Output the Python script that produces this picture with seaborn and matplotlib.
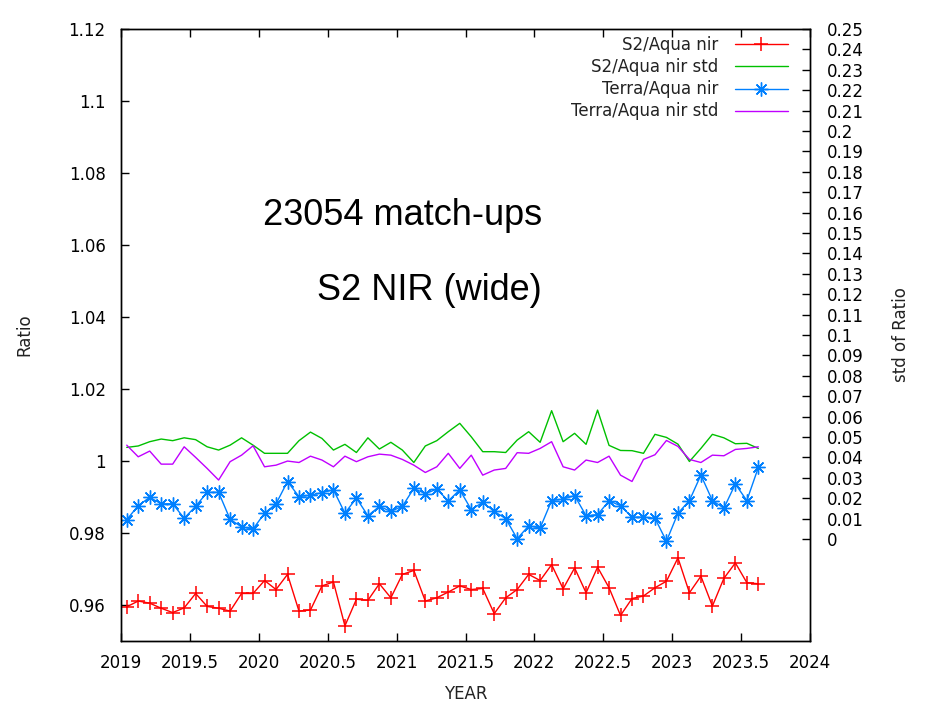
import numpy as np
import pandas as pd
import matplotlib
matplotlib.use("Agg")
import matplotlib.pyplot as plt
import seaborn as sns

# ---------------- data ----------------
months = pd.period_range("2019-01", "2023-08", freq="M")
year = np.asarray(months.year + (months.month - 0.5) / 12.0, dtype=float)

s2_nir = [0.9595, 0.9611, 0.9605, 0.9591, 0.9579, 0.9592, 0.9632, 0.9596, 0.9591, 0.9583,
          0.9632, 0.9632, 0.9668, 0.9643, 0.9685, 0.9583, 0.9586, 0.9653, 0.9664, 0.9542,
          0.9616, 0.9613, 0.9659, 0.9620, 0.9685, 0.9696, 0.9611, 0.9620, 0.9636, 0.9653,
          0.9643, 0.9646, 0.9576, 0.9620, 0.9643, 0.9685, 0.9668, 0.9712, 0.9645, 0.9703,
          0.9634, 0.9705, 0.9648, 0.9571, 0.9618, 0.9625, 0.9648, 0.9666, 0.9731, 0.9634,
          0.9680, 0.9597, 0.9674, 0.9717, 0.9662, 0.9659]

s2_nir_std = [0.0449, 0.0456, 0.0477, 0.0490, 0.0482, 0.0496, 0.0487, 0.0452, 0.0436, 0.0460,
              0.0496, 0.0460, 0.0420, 0.0420, 0.0420, 0.0482, 0.0524, 0.0493, 0.0436, 0.0464,
              0.0424, 0.0496, 0.0441, 0.0474, 0.0436, 0.0375, 0.0456, 0.0482, 0.0526, 0.0567,
              0.0501, 0.0428, 0.0428, 0.0424, 0.0485, 0.0526, 0.0474, 0.0629, 0.0477, 0.0518,
              0.0464, 0.0632, 0.0459, 0.0434, 0.0433, 0.0420, 0.0513, 0.0498, 0.0465, 0.0380,
              0.0444, 0.0513, 0.0496, 0.0467, 0.0469, 0.0444]

terra_nir = [0.9837, 0.9876, 0.9899, 0.9881, 0.9881, 0.9841, 0.9874, 0.9913, 0.9913, 0.9838,
             0.9817, 0.9811, 0.9855, 0.9881, 0.9943, 0.9901, 0.9905, 0.9912, 0.9920, 0.9855,
             0.9897, 0.9848, 0.9874, 0.9860, 0.9874, 0.9924, 0.9909, 0.9922, 0.9889, 0.9920,
             0.9865, 0.9885, 0.9860, 0.9840, 0.9784, 0.9820, 0.9814, 0.9890, 0.9894, 0.9904,
             0.9848, 0.9851, 0.9889, 0.9876, 0.9844, 0.9844, 0.9841, 0.9777, 0.9855, 0.9890,
             0.9961, 0.9890, 0.9869, 0.9936, 0.9890, 0.9982]

terra_nir_std = [0.0460, 0.0403, 0.0431, 0.0367, 0.0367, 0.0452, 0.0400, 0.0346, 0.0289, 0.0379,
                 0.0411, 0.0457, 0.0354, 0.0362, 0.0382, 0.0375, 0.0406, 0.0387, 0.0354, 0.0406,
                 0.0379, 0.0403, 0.0416, 0.0411, 0.0390, 0.0362, 0.0326, 0.0354, 0.0420, 0.0346,
                 0.0411, 0.0313, 0.0338, 0.0346, 0.0423, 0.0420, 0.0444, 0.0477, 0.0354, 0.0338,
                 0.0387, 0.0375, 0.0406, 0.0313, 0.0282, 0.0390, 0.0413, 0.0483, 0.0454, 0.0390,
                 0.0375, 0.0411, 0.0408, 0.0439, 0.0444, 0.0452]

labels = ["S2/Aqua nir", "S2/Aqua nir std", "Terra/Aqua nir", "Terra/Aqua nir std"]
x_ticks = [2019, 2019.5, 2020, 2020.5, 2021, 2021.5, 2022, 2022.5, 2023, 2023.5, 2024]
y_ticks = [0.96, 0.98, 1.0, 1.02, 1.04, 1.06, 1.08, 1.1, 1.12]
y2_ticks = [round(0.01 * k, 2) for k in range(26)]

df = pd.DataFrame({"year": year, "s2": s2_nir, "s2std": s2_nir_std,
                   "terra": terra_nir, "terrastd": terra_nir_std})

# ---------------- style ----------------
sns.set_theme(style="ticks", rc={"axes.edgecolor": "black", "axes.linewidth": 1.0,
                                 "xtick.color": "black", "ytick.color": "black",
                                 "text.color": "#222222", "axes.labelcolor": "#222222"})
plt.rcParams["font.family"] = ["DejaVu Sans"]

RED, GREEN, BLUE, PURPLE = "#ff0000", "#00c000", "#0080ff", "#c000ff"
W, H = 940, 704
L, R, T, B = 121, 810, 29, 641

fig = plt.figure(figsize=(W / 100, H / 100), dpi=100)
ax = fig.add_axes([L / W, 1 - B / H, (R - L) / W, (B - T) / H])
ax2 = ax.twinx()

sns.lineplot(data=df, x="year", y="s2", ax=ax, color=RED, lw=1.0, marker="+",
             markersize=10, mec=RED, mew=1.1, errorbar=None, label=labels[0], legend=False)
sns.lineplot(data=df, x="year", y="terra", ax=ax, color=BLUE, lw=1.0, marker=(8, 2, 0),
             markersize=10, mec=BLUE, mew=1.0, errorbar=None, label=labels[2], legend=False)
sns.lineplot(data=df, x="year", y="s2std", ax=ax2, color=GREEN, lw=1.0,
             errorbar=None, label=labels[1], legend=False)
sns.lineplot(data=df, x="year", y="terrastd", ax=ax2, color=PURPLE, lw=1.0,
             errorbar=None, label=labels[3], legend=False)

for a in (ax, ax2):
    if a.get_legend() is not None:
        a.get_legend().remove()

ax.set_xlim(2019, 2024)
ax.set_ylim(0.95, 1.12)
ax2.set_ylim(-0.05, 0.25)
ax.set_xticks(x_ticks)
ax.set_xticklabels([f"{v:g}" for v in x_ticks])
ax.set_yticks(y_ticks)
ax.set_yticklabels([f"{v:g}" for v in y_ticks])
ax2.set_yticks(y2_ticks)
ax2.set_yticklabels([f"{v:g}" for v in y2_ticks])

ax.tick_params(axis="both", direction="in", length=6, width=1.0, labelsize=12, top=True, right=False)
ax.tick_params(axis="y", pad=11)
ax.tick_params(axis="x", pad=9)
ax2.tick_params(axis="y", direction="in", length=6, width=1.0, labelsize=12, pad=12)
for a in (ax, ax2):
    for sp in a.spines.values():
        sp.set_visible(True)
        sp.set_color("black")
        sp.set_linewidth(1.0)

ax.set_xlabel("YEAR", fontsize=12)
ax.set_ylabel("Ratio", fontsize=12)
ax2.set_ylabel("std of Ratio", fontsize=12)
ax.xaxis.set_label_coords(0.5, (B - 685) / (B - T))
ax.yaxis.set_label_coords((33 - L) / (R - L), 0.5)
ax2.yaxis.set_label_coords((892 - L) / (R - L), 0.5)

ax.text((541.7 - L) / (R - L), (B - 225) / (B - T), "23054 match-ups", transform=ax.transAxes,
        ha="right", va="baseline", fontsize=26, family=["Liberation Sans", "DejaVu Sans"], color="black")
ax.text((541.7 - L) / (R - L), (B - 300) / (B - T), "S2 NIR (wide)", transform=ax.transAxes,
        ha="right", va="baseline", fontsize=26, family=["Liberation Sans", "DejaVu Sans"], color="black")

h1, l1 = ax.get_legend_handles_labels()
h2, l2 = ax2.get_legend_handles_labels()
hd = dict(zip(l1 + l2, h1 + h2))
ax2.legend([hd[k] for k in labels], labels, loc="upper right",
           bbox_to_anchor=((788 - L) / (R - L), (B - 36) / (B - T)),
           frameon=False, markerfirst=False, numpoints=1, handlelength=3.2,
           handletextpad=1.0, labelspacing=0.25, fontsize=12, borderpad=0, borderaxespad=0)

fig.savefig("out.png", dpi=100)
